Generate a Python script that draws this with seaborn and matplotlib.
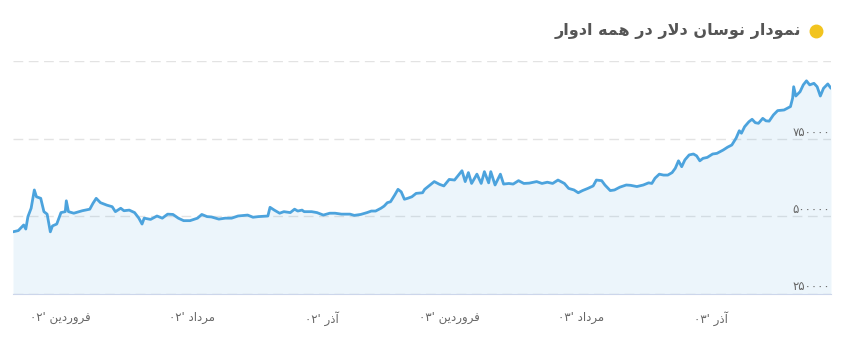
import re
import numpy as np
import pandas as pd
import matplotlib
matplotlib.use("Agg")
import matplotlib.pyplot as plt
import seaborn as sns

# days since 1 Farvardin 1402, dollar price in rial
days = [-44, -39, -34, -32, -30, -27, -24, -22, -18, -15, -12, -9, -7, -3,
        1, 5, 6, 8, 13, 21, 28, 31, 34, 38, 44, 49, 52, 57, 60, 65, 70, 74, 77, 79,
        85, 91, 96, 101, 106, 111, 116, 122,
        129, 133, 138, 142, 149, 155, 161, 167, 176, 181, 186, 195, 197, 201, 206,
        210, 216, 220, 223, 227, 229, 236, 241,
        247, 253, 258, 264, 272, 276, 282, 288, 292, 296, 301, 304, 307, 310, 314,
        317, 320, 323, 326, 330, 334, 340, 342, 346, 351, 356, 360, 365,
        370, 373, 377, 380, 383, 386, 391, 395, 398, 402, 404, 408, 413, 416, 421,
        425, 430, 435, 440, 447, 452, 457, 462, 467, 473, 477, 482, 486,
        490, 495, 500, 503, 508, 511, 516, 520, 525, 531, 535, 541, 547, 552, 555,
        558, 562, 566, 570, 574, 577, 580, 583, 586, 590, 594, 597, 600, 603, 607,
        612, 616, 622, 626, 630, 634, 637, 639, 642, 646, 649, 652, 655, 659, 662,
        665, 669, 673, 679, 685, 687, 688, 690, 694, 697, 700, 703, 707, 710, 713,
        716, 720, 723]
price = [449000, 453000, 471000, 458000, 498000, 525000, 584000, 562000, 557000,
         514000, 506000, 449000, 468000, 474000,
         511000, 514000, 549000, 514000, 509000, 517000, 522000, 541000, 557000,
         543000, 535000, 530000, 514000, 525000, 517000, 519000, 511000, 493000,
         474000, 493000,
         489000, 500000, 493000, 506000, 505000, 493000, 485000, 485000,
         493000, 505000, 498000, 497000, 490000, 493000, 493000, 500000, 503000,
         496000, 498000, 500000, 528000, 519000, 509000,
         514000, 511000, 522000, 516000, 519000, 514000, 514000, 511000,
         503000, 509000, 509000, 506000, 506000, 502000, 505000, 511000, 516000,
         516000, 525000, 532000, 543000, 546000, 568000,
         586000, 578000, 554000, 557000, 562000, 573000, 575000, 586000, 597000,
         611000, 602000, 597000, 618000,
         616000, 629000, 646000, 611000, 640000, 605000, 635000, 605000, 643000,
         607000, 643000, 600000, 635000, 603000, 605000,
         603000, 614000, 605000, 606000, 611000, 605000, 609000, 605000, 616000,
         605000, 589000, 584000, 575000,
         582000, 589000, 597000, 616000, 614000, 600000, 582000, 584000, 593000,
         600000, 599000, 595000, 600000, 607000, 605000,
         622000, 635000, 632000, 632000, 640000, 654000, 678000, 659000, 681000,
         697000, 700000, 694000, 678000, 686000, 689000,
         700000, 702000, 713000, 722000, 729000, 751000, 775000, 767000, 788000,
         804000, 812000, 801000, 799000, 815000, 807000,
         806000, 826000, 840000, 842000, 853000, 880000, 917000, 887000, 901000,
         923000, 936000, 923000, 928000, 917000, 887000,
         912000, 926000, 912000]

tick_days = [0, 124, 246, 365, 489, 610]
tick_names = ["فروردین '۰۲", "مرداد '۰۲", "آذر '۰۲",
              "فروردین '۰۳", "مرداد '۰۳", "آذر '۰۳"]
y_ticks = [250000, 500000, 750000, 1000000]
title = "نمودار نوسان دلار در همه ادوار"

# matplotlib has no arabic shaping / bidi, so do it by hand
FORMS = {  # isolated, final, initial, medial
    'ا': ('\uFE8D', '\uFE8E', None, None),
    'آ': ('\uFE81', '\uFE82', None, None),
    'د': ('\uFEA9', '\uFEAA', None, None),
    'ذ': ('\uFEAB', '\uFEAC', None, None),
    'ر': ('\uFEAD', '\uFEAE', None, None),
    'و': ('\uFEED', '\uFEEE', None, None),
    'س': ('\uFEB1', '\uFEB2', '\uFEB3', '\uFEB4'),
    'ف': ('\uFED1', '\uFED2', '\uFED3', '\uFED4'),
    'ل': ('\uFEDD', '\uFEDE', '\uFEDF', '\uFEE0'),
    'م': ('\uFEE1', '\uFEE2', '\uFEE3', '\uFEE4'),
    'ن': ('\uFEE5', '\uFEE6', '\uFEE7', '\uFEE8'),
    'ه': ('\uFEE9', '\uFEEA', '\uFEEB', '\uFEEC'),
    'ی': ('\uFEEF', '\uFEF0', '\uFEF3', '\uFEF4'),
}
LAM_ALEF = {'ا': ('\uFEFB', '\uFEFC'), 'آ': ('\uFEF5', '\uFEF6')}


def dual(c):
    return c in FORMS and FORMS[c][2] is not None


def shape(text):
    out = []
    i = 0
    while i < len(text):
        c = text[i]
        prev = i > 0 and dual(text[i - 1])
        if c not in FORMS:
            out.append(c)
            i += 1
            continue
        if c == 'ل' and i + 1 < len(text) and text[i + 1] in LAM_ALEF:
            out.append(LAM_ALEF[text[i + 1]][1 if prev else 0])
            i += 2
            continue
        nxt = dual(c) and i + 1 < len(text) and text[i + 1] in FORMS
        iso, fin, ini, med = FORMS[c]
        if prev and nxt:
            out.append(med)
        elif prev:
            out.append(fin)
        elif nxt:
            out.append(ini)
        else:
            out.append(iso)
        i += 1
    s = ''.join(out)
    runs = re.findall(r"[0-9\u06F0-\u06F9]+|[^0-9\u06F0-\u06F9]+", s)
    runs = [r if r[0].isdigit() else r[::-1] for r in runs]
    return ''.join(runs[::-1])


def fa_num(n):
    return str(n).translate(str.maketrans("0123456789", "۰۱۲۳۴۵۶۷۸۹"))


df = pd.DataFrame({"day": days, "price": price})

sns.set_style("white")
plt.rcParams['font.family'] = ['DejaVu Sans']

fig = plt.figure(figsize=(8.44, 3.63), dpi=100)
ax = fig.add_axes([13 / 844, 1 - 293.5 / 363, 818 / 844, 232.5 / 363])

ax.fill_between(df["day"], df["price"], 250000, color="#4ca3dd", alpha=0.1, lw=0)
sns.lineplot(data=df, x="day", y="price", ax=ax, color="#4ca3dd", lw=2.0)

ax.set_xlim(df["day"].min(), df["day"].max())
ax.set_ylim(250000, 1000000)
ax.set_xlabel("")
ax.set_ylabel("")

ax.set_yticks(y_ticks)
ax.set_yticklabels([])
ax.tick_params(axis="y", length=0)
ax.grid(axis="y", color="#e3e3e3", lw=1, ls=(0, (7, 4)))
ax.grid(axis="x", visible=False)
for v in y_ticks[:-1]:
    ax.text(0.999, v, fa_num(v), transform=ax.get_yaxis_transform(),
            ha="right", va="bottom", fontsize=8.5, color="#666666")

ax.set_xticks(tick_days)
ax.set_xticklabels([shape(t) for t in tick_names], fontsize=8.5, color="#666666")
ax.tick_params(axis="x", length=7.5, width=0.8, color="#ccd6eb", pad=5)

for s in ["top", "left", "right"]:
    ax.spines[s].set_visible(False)
ax.spines["bottom"].set_color("#ccd6eb")
ax.spines["bottom"].set_linewidth(0.8)

fig.text(801 / 844, 1 - 31 / 363, shape(title), ha="right", va="center",
         fontsize=11.5, fontweight="bold", color="#555555")
fig.add_artist(plt.Line2D([816 / 844], [1 - 31 / 363], marker="o",
                          markersize=9, color="#f2c41f", lw=0,
                          transform=fig.transFigure))

fig.savefig("out.png", dpi=100)
